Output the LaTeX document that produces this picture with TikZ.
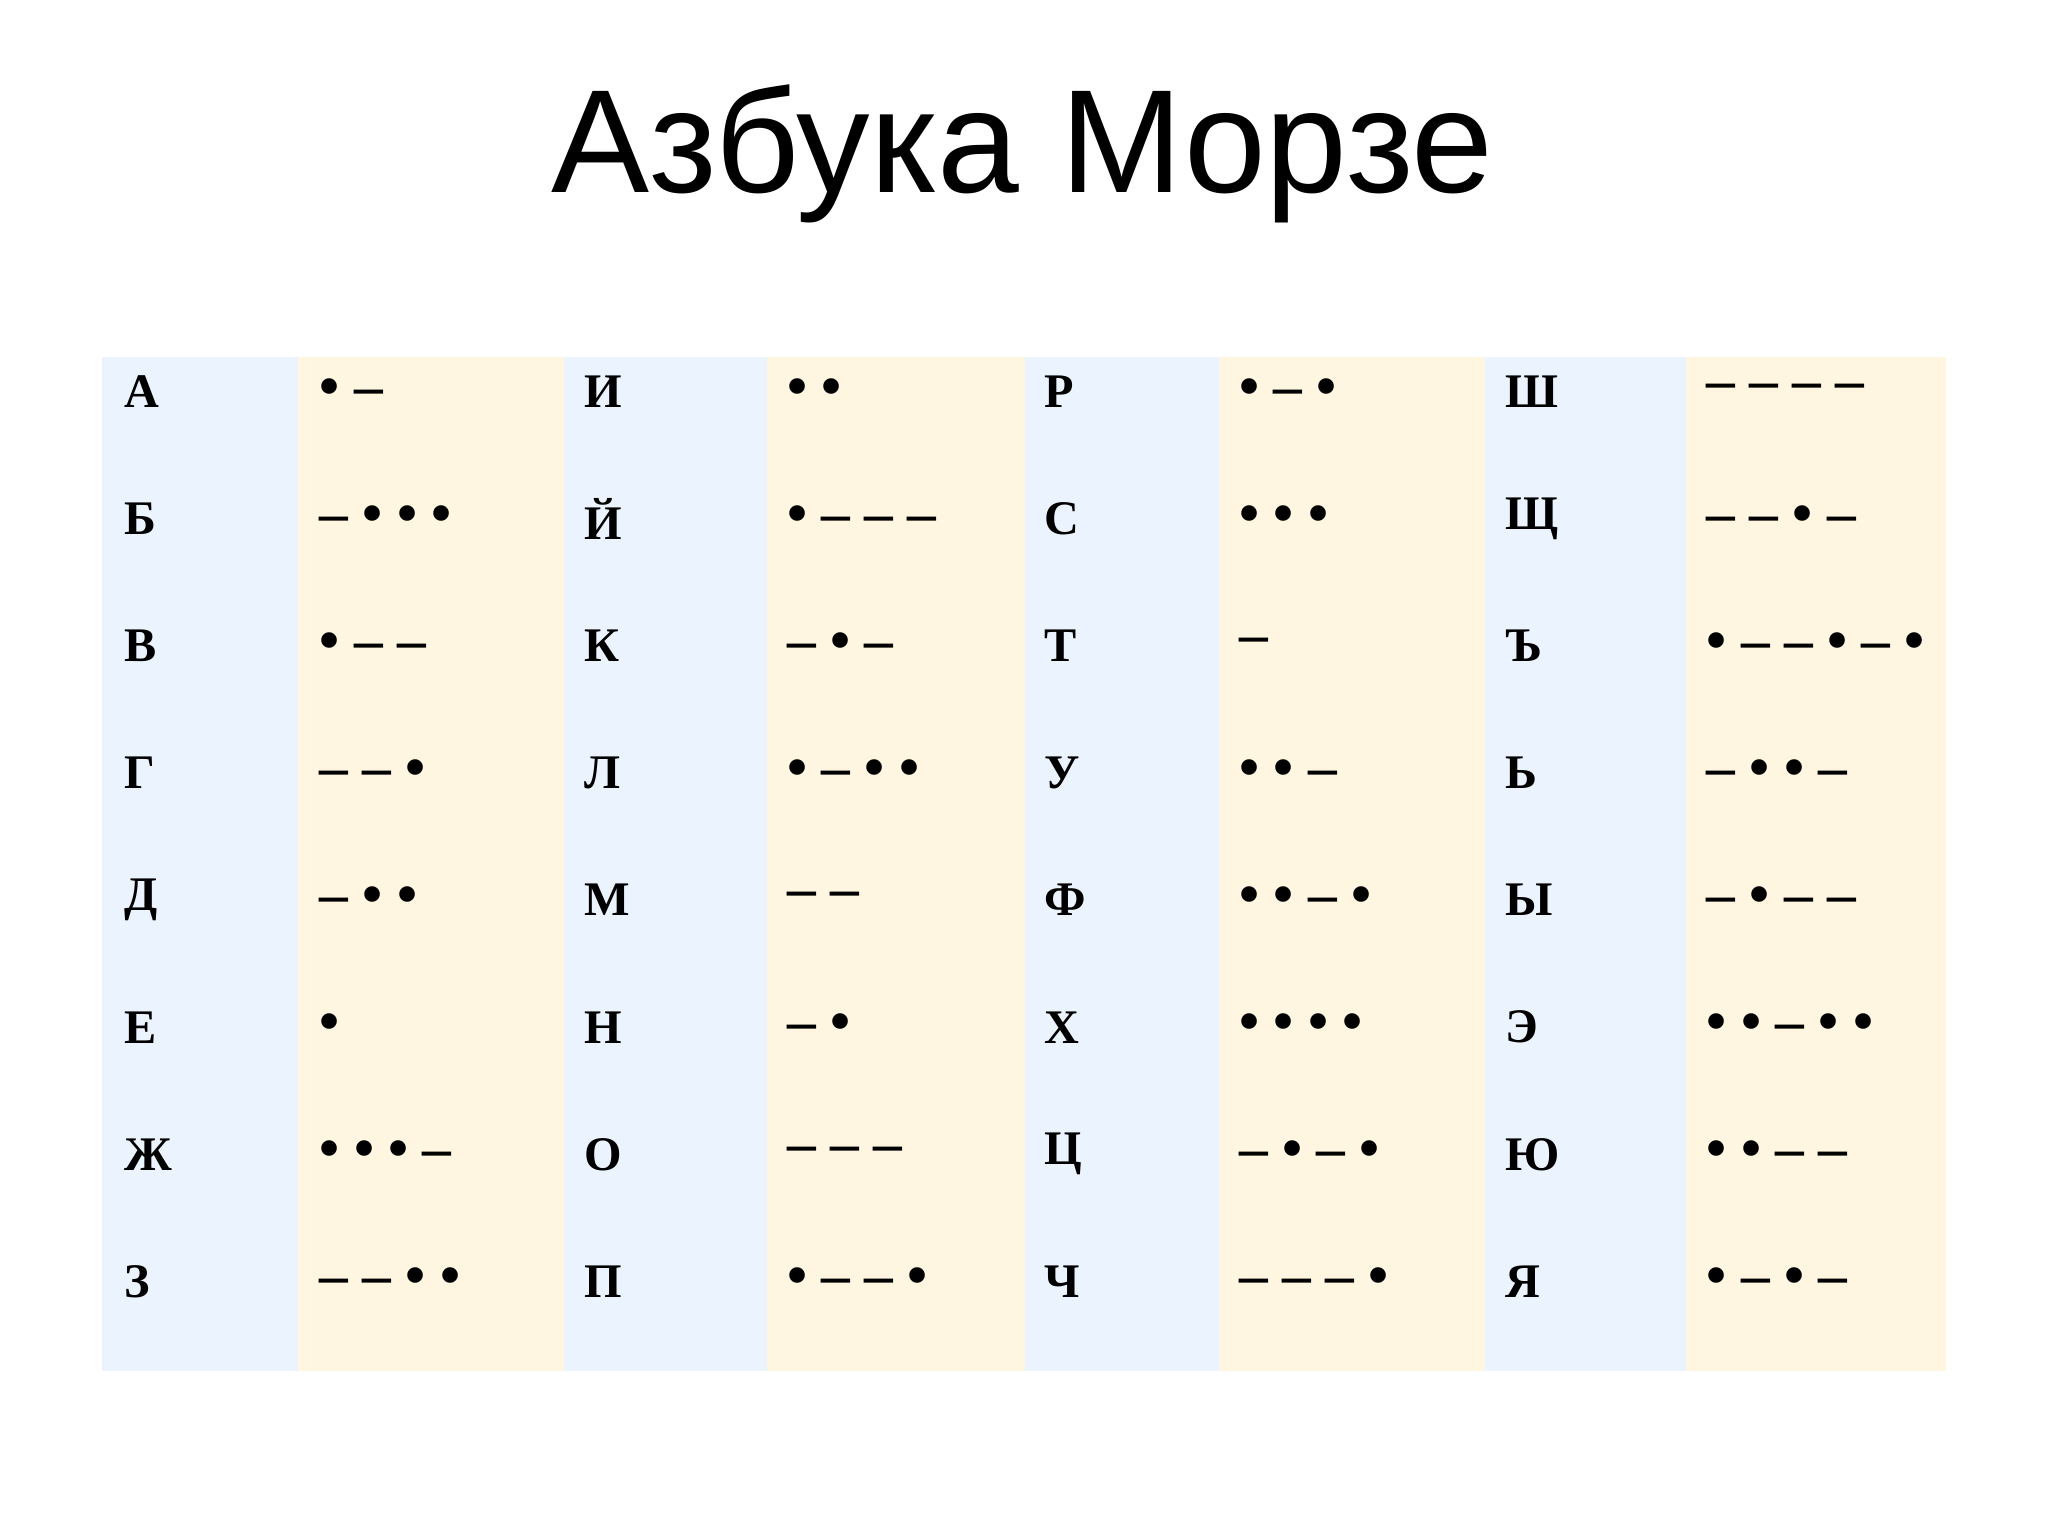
\documentclass[tikz,border=0pt]{standalone}
\usepackage{fontspec}
\setmainfont{Liberation Serif}
\newfontfamily\titlefont{Liberation Sans}
\definecolor{bcol}{HTML}{EBF4FE}
\definecolor{ycol}{HTML}{FFF6E1}
\begin{document}
\begin{tikzpicture}[x=0.01cm,y=-0.01cm,
  lt/.style={anchor=west,inner sep=0pt,font=\fontsize{10.5}{12}\selectfont\bfseries},
  mc/.style={anchor=west,inner sep=0pt,font=\fontsize{12.5}{14}\selectfont\bfseries}]
\useasboundingbox (0,0) rectangle (1568,1176);
\fill[white] (0,0) rectangle (1568,1176);
\node[font=\titlefont\fontsize{32}{36}\selectfont] (title) at (783,118) {Азбука Морзе};
\foreach \a/\b/\c in {78/228/bcol,228/432/ycol,432/587/bcol,587/785/ycol,785/933/bcol,933/1137/ycol,1137/1291/bcol,1291/1490/ycol}
  \fill[\c] (\a,273) rectangle (\b,1050);
\def\rowy#1{\ifcase#1 300\or 398\or 495\or 592\or 689\or 787\or 884\or 981\fi}
\foreach \cx/\mx/\list in {
 95/244/{А/• –,Б/– • • •,В/• – –,Г/– – •,Д/– • •,Е/•,Ж/• • • –,З/– – • •},
 447/602/{И/• •,Й/• – – –,К/– • –,Л/• – • •,М/– –,Н/– •,О/– – –,П/• – – •},
 799/948/{Р/• – •,С/• • •,Т/–,У/• • –,Ф/• • – •,Х/• • • •,Ц/– • – •,Ч/– – – •},
 1152/1306/{Ш/– – – –,Щ/– – • –,Ъ/• – – • – •,Ь/– • • –,Ы/– • – –,Э/• • – • •,Ю/• • – –,Я/• – • –}}{
  \foreach \l/\m [count=\i from 0] in \list {
    \pgfmathsetmacro\yy{300+97.3*\i}
    \node[lt] (l\cx-\i) at (\cx,\yy) {\l};
    \node[mc] (m\cx-\i) at (\mx,\yy) {\m};
  }
}
\end{tikzpicture}
\end{document}
